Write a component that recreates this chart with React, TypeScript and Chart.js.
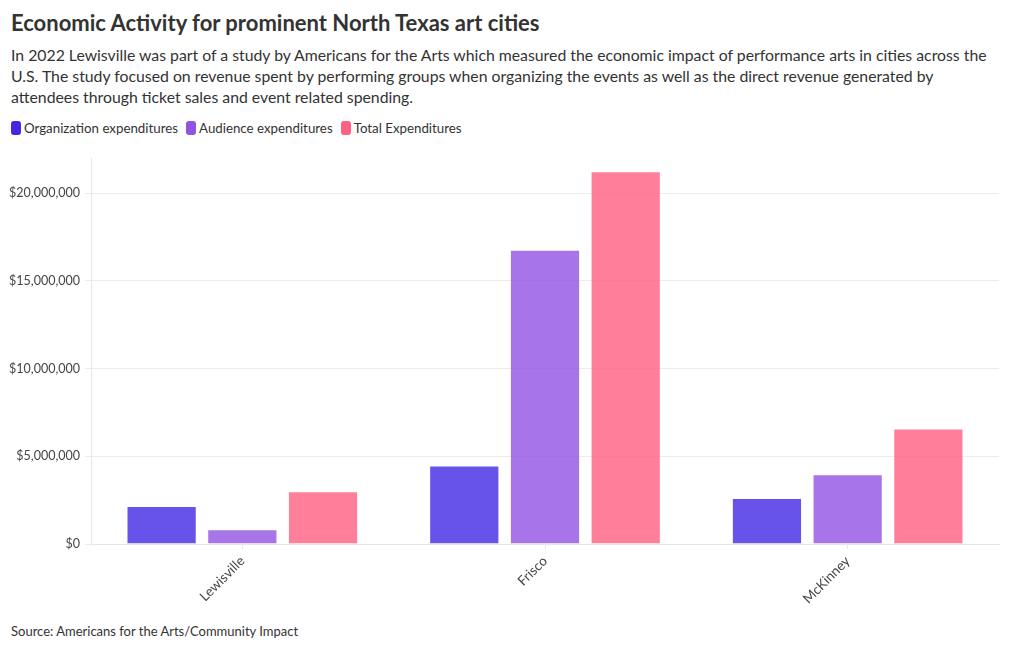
import React, { useEffect, useRef } from "react";
import { Chart, registerables } from "chart.js";

Chart.register(...registerables);

const cities = ["Lewisville", "Frisco", "McKinney"];
const organizationExpenditures = [2160000, 4480000, 2620000];
const audienceExpenditures = [840000, 16770000, 3970000];
const totalExpenditures = [3000000, 21250000, 6590000];
const seriesNames = ["Organization expenditures", "Audience expenditures", "Total Expenditures"];
const seriesColors = ["#4128e4", "#9153e2", "#ff5f82"];
const barColors = ["rgba(65,40,228,0.8)", "rgba(145,83,226,0.8)", "rgba(255,95,130,0.8)"];
const yTicks = [0, 5000000, 10000000, 15000000, 20000000];

const FONT = "Lato, 'Liberation Sans', sans-serif";

export default function App() {
  const ref = useRef<HTMLCanvasElement>(null);

  useEffect(() => {
    const values = [organizationExpenditures, audienceExpenditures, totalExpenditures];
    const chart = new Chart(ref.current!, {
      type: "bar",
      data: {
        labels: cities,
        datasets: values.map((v, i) => ({
          label: seriesNames[i],
          data: v,
          backgroundColor: barColors[i],
          borderColor: "rgba(255,255,255,0.35)",
          borderWidth: 1,
          categoryPercentage: 0.8,
          barPercentage: 0.87,
        })),
      },
      options: {
        animation: false,
        responsive: false,
        maintainAspectRatio: false,
        layout: { padding: { top: 13, right: 21, left: 0, bottom: 0 } },
        plugins: { legend: { display: false }, tooltip: { enabled: false } },
        scales: {
          x: {
            grid: { display: true, drawOnChartArea: false, drawTicks: true, tickLength: 5, color: "#e6e6e6", offset: false },
            border: { display: true, color: "#e6e6e6" },
            ticks: {
              minRotation: 45,
              maxRotation: 45,
              color: "#444",
              font: { family: FONT, size: 13.5 },
              padding: 4,
            },
            afterFit: (s: any) => {
              s.height = 71;
            },
          },
          y: {
            min: 0,
            max: 22000000,
            afterBuildTicks: (s: any) => {
              s.ticks = yTicks.map((v) => ({ value: v }));
            },
            grid: { color: "#ececec", tickLength: 6, drawTicks: true },
            border: { display: true, color: "#e6e6e6" },
            ticks: {
              color: "#444",
              font: { family: FONT, size: 12.5 },
              padding: 5,
              callback: (v: any) => "$" + Number(v).toLocaleString("en-US"),
            },
            afterFit: (s: any) => {
              s.width = 91;
            },
          },
        },
      },
    });
    return () => chart.destroy();
  }, []);

  return (
    <div style={{ position: "absolute", left: 0, top: 0, width: 1020, height: 650, fontFamily: FONT, color: "#333", background: "#fff" }}>
      <div style={{ position: "absolute", left: 11, top: 9, fontSize: 22, fontWeight: 700, color: "#333", whiteSpace: "nowrap" }}>
        Economic Activity for prominent North Texas art cities
      </div>
      <div style={{ position: "absolute", left: 11, top: 44, width: 990, fontSize: 15.8, lineHeight: "21px", color: "#333" }}>
        In 2022 Lewisville was part of a study by Americans for the Arts which measured the economic impact of performance arts in cities across the U.S. The study focused on revenue spent by performing groups when organizing the events as well as the direct revenue generated by attendees through ticket sales and event related spending.
      </div>
      <div style={{ position: "absolute", left: 11, top: 120, display: "flex", fontSize: 13.3, color: "#333", whiteSpace: "nowrap" }}>
        {seriesNames.map((n, i) => (
          <div key={n} style={{ display: "flex", alignItems: "center", marginRight: 8 }}>
            <span style={{ display: "inline-block", width: 10, height: 14, borderRadius: 3, background: seriesColors[i], marginRight: 3 }} />
            <span>{n}</span>
          </div>
        ))}
      </div>
      <canvas ref={ref} width={1020} height={470} style={{ position: "absolute", left: 0, top: 145, width: 1020, height: 470 }} />
      <div style={{ position: "absolute", left: 11, top: 623, fontSize: 13, color: "#333", whiteSpace: "nowrap" }}>
        Source: Americans for the Arts/Community Impact
      </div>
    </div>
  );
}
